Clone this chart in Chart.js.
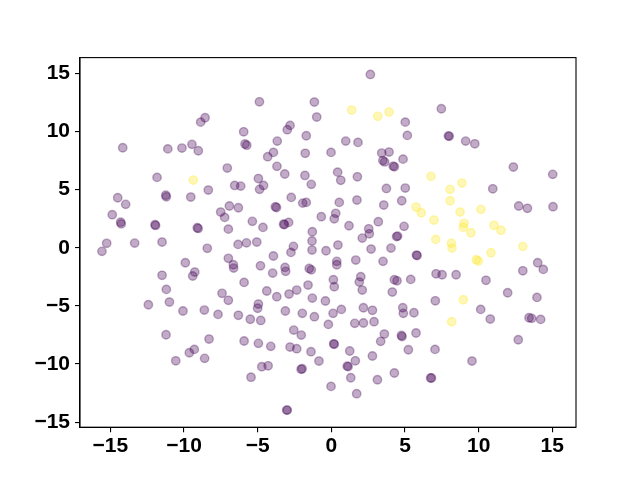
<!DOCTYPE html>
<html>
<head>
<meta charset="utf-8">
<script src="https://cdn.jsdelivr.net/npm/chart.js@4/dist/chart.umd.min.js"></script>
<style>html,body{margin:0;padding:0;background:#fff;}canvas{display:block;}</style>
</head>
<body>
<canvas id="c" width="640" height="480"></canvas>
<script>
// class 0 (viridis purple)
const purpleX = [-14.16,-11.83,-11.1,-10.14,-9.46,-9.03,-8.87,-8.57,-7.06,-5.95,-5.86,-5.74,-6.56,-6.15,
2.65,-4.88,-1.15,-0.99,5.02,5.16,-2.8,-2.99,-3.67,-1.70,-3.93,-4.32,-1.77,-0.02,0.98,1.81,-3.69,-3.16,-1.79,0.43,1.77,3.42,3.92,3.5,3.62,4.2,4.28,4.87,-4.95,-4.6,-4.87,-1.36,0.64,
7.47,7.95,8.0,9.12,9.74,12.36,15.03,
-8.35,-14.5,-13.96,-14.87,-14.3,-14.26,-11.24,-11.2,-9.54,-11.97,-11.93,-9.1,-9.04,-7.51,-7.24,-6.92,-6.31,-6.99,-15.25,-15.57,-13.35,-11.49,-8.42,-6.33,-5.76,-9.91,-6.99,-6.65,-6.63,-11.49,-9.27,-9.41,-5.92,-11.2,-7.42,-6.99,-12.42,-10.99,
-10.07,-8.62,-7.69,-6.31,-5.5,-11.22,-8.3,-5.92,-9.3,-9.64,-10.56,-8.6,-5.45,
-2.72,-1.94,-1.70,-3.8,-3.72,0.54,1.74,3.56,4.78,3.74,5.02,-5.36,-4.64,-3.24,-3.18,-2.9,-0.68,0.3,0.2,1.2,2.54,2.58,2.1,3.19,4.94,4.43,4.5,-1.29,-1.31,-1.31,0.45,-0.36,2.7,4.05,-5.06,-2.57,-2.74,-3.93,-4.81,-3.98,-3.14,-3.1,-1.5,-1.36,0.37,0.37,1.66,3.51,0.14,0.2,2.0,1.9,2.1,4.28,4.46,5.39,4.14,-4.38,-3.7,-2.87,-2.35,-1.58,-1.29,-0.4,-4.95,-5.0,
-4.79,-3.12,-1.97,-1.15,-0.2,0.12,0.68,2.18,2.79,4.85,4.89,1.59,2.18,2.9,-2.55,-2.04,-4.95,-4.11,-2.8,-2.35,-1.38,-0.84,0.16,0.2,1.25,1.63,1.08,1.14,1.32,-0.02,1.72,2.79,3.13,3.6,3.35,4.76,4.8,5.23,4.28,-4.72,-4.29,-2.05,-1.98,-3.03,-2.99,
5.61,5.75,7.04,10.14,10.79,13.42,13.6,14.21,12.69,9.55,6.74,6.8,
10.96,12.72,13.31,15.05,5.78,5.82,7.11,7.52,8.47,10.5,14.01,14.39,13.0,7.06,11.97,13.96];
const purpleY = [8.6,6.05,8.5,8.57,8.89,8.34,10.8,11.18,6.85,9.97,8.92,8.82,5.36,5.3,
14.9,12.55,12.53,11.24,10.8,9.66,10.52,10.15,9.17,9.63,8.2,7.83,8.12,8.2,9.17,9.06,7.0,6.34,6.22,6.5,6.1,8.14,8.23,7.5,7.38,7.02,6.96,7.62,5.95,5.36,5.02,5.45,5.8,
11.95,9.62,9.58,9.17,8.94,6.94,6.31,
4.96,4.3,3.73,2.84,2.2,2.05,4.52,4.38,4.36,1.98,1.92,1.72,1.66,3.07,2.61,3.59,3.44,1.6,0.38,-0.31,0.4,0.49,-0.05,0.29,0.42,-1.29,-0.91,-1.46,-1.75,-2.37,-2.09,-2.43,-2.98,-3.58,-3.92,-4.52,-4.9,-4.67,
-5.44,-5.36,-5.73,-5.81,-6.15,-7.48,-7.85,-8.02,-8.74,-9.03,-9.72,-9.51,-11.13,
4.33,3.84,3.9,3.52,3.46,3.9,4.1,3.67,4.04,5.1,5.13,2.27,1.75,2.02,2.0,2.18,2.67,2.96,2.49,1.89,1.63,1.2,0.83,2.24,1.84,0.96,1.0,1.38,0.58,-0.2,0.23,-0.26,-0.11,-0.03,0.49,0.12,-0.4,-0.71,-1.55,-2.18,-1.69,-2.03,-1.78,-1.9,-1.17,-1.46,-1.06,-1.17,-2.75,-3.35,-2.49,-2.95,-3.64,-2.75,-2.84,-2.72,-3.81,-3.72,-4.21,-3.98,-3.64,-3.21,-4.33,-4.58,-4.84,-5.2,
-6.25,-5.44,-5.64,-5.93,-6.59,-5.64,-5.3,-5.16,-5.38,-5.16,-5.64,-6.5,-6.47,-6.36,-7.08,-7.51,-8.22,-8.48,-8.54,-8.68,-8.94,-9.74,-8.26,-8.3,-8.88,-9.72,-10.18,-10.22,-11.18,-11.92,-12.55,-9.31,-11.35,-7.42,-8.05,-7.54,-7.64,-8.77,-10.77,-10.23,-10.15,-10.45,-10.4,-13.96,-13.96,
-5.59,-7.33,-8.74,-5.3,-6.13,-6.02,-6.07,-6.16,-7.91,-9.74,-11.2,-11.2,
5.07,3.59,3.39,3.53,-0.63,-0.67,-2.24,-2.32,-2.32,-2.8,-1.29,-1.86,-1.98,-4.56,-3.87,-4.27];
// class 1 (viridis yellow)
const yellowX = [-9.37,1.38,3.15,3.92,6.77,8.87,8.17,8.06,5.75,6.11,8.06,8.74,10.16,6.97,9.01,8.96,9.48,11.05,11.52,7.09,8.15,8.19,13.0,10.84,9.84,9.98,8.96];
const yellowY = [5.82,11.84,11.3,11.67,6.14,5.56,-6.36,5.02,3.5,3.01,4.04,3.07,3.3,2.38,2.1,1.75,1.29,1.93,1.5,0.72,0.4,-0.03,0.12,-0.43,-1.03,-1.14,-4.47];
const tickValues = [-15,-10,-5,0,5,10,15];

const toPts = (xs, ys) => xs.map((x, i) => ({x: x, y: ys[i]}));
const fmt = v => (v < 0 ? '\u2212' + Math.abs(v) : String(v));
const tickFont = {family: '"Liberation Sans", Arial, sans-serif', size: 21, weight: 'bold', lineHeight: 1};

const frame = {
  id: 'frame',
  afterDraw(chart) {
    const a = chart.chartArea, ctx = chart.ctx;
    ctx.save();
    ctx.strokeStyle = '#000';
    ctx.lineWidth = 1.1;
    ctx.strokeRect(a.left, a.top, a.right - a.left, a.bottom - a.top);
    ctx.restore();
  }
};

new Chart(document.getElementById('c'), {
  type: 'scatter',
  data: {
    datasets: [
      {data: toPts(purpleX, purpleY), backgroundColor: 'rgba(68,1,84,0.33)', borderColor: 'rgba(68,1,84,0.33)', pointRadius: 4.2, borderWidth: 1.4},
      {data: toPts(yellowX, yellowY), backgroundColor: 'rgba(253,231,37,0.33)', borderColor: 'rgba(253,231,37,0.33)', pointRadius: 4.2, borderWidth: 1.4}
    ]
  },
  options: {
    responsive: false,
    devicePixelRatio: 1,
    animation: false,
    events: [],
    layout: {padding: {left: 0, right: 64, top: 57.6, bottom: 0}},
    plugins: {legend: {display: false}, tooltip: {enabled: false}},
    scales: {
      x: {
        type: 'linear', min: -17.06, max: 16.61,
        afterFit(s) { s.height = 52.8; },
        afterBuildTicks(s) { s.ticks = tickValues.map(v => ({value: v})); },
        grid: {drawOnChartArea: false, drawTicks: true, tickLength: 5, color: '#000', lineWidth: 1.1},
        border: {display: true, color: '#000', width: 1.1},
        ticks: {color: '#000', font: tickFont, padding: 4, maxRotation: 0, callback: v => fmt(v)}
      },
      y: {
        type: 'linear', min: -15.43, max: 16.35,
        afterFit(s) { s.width = 80; },
        afterBuildTicks(s) { s.ticks = tickValues.map(v => ({value: v})); },
        grid: {drawOnChartArea: false, drawTicks: true, tickLength: 5, color: '#000', lineWidth: 1.1},
        border: {display: true, color: '#000', width: 1.1},
        ticks: {color: '#000', font: tickFont, padding: 5, callback: v => fmt(v)}
      }
    }
  },
  plugins: [frame]
});
</script>
</body>
</html>
